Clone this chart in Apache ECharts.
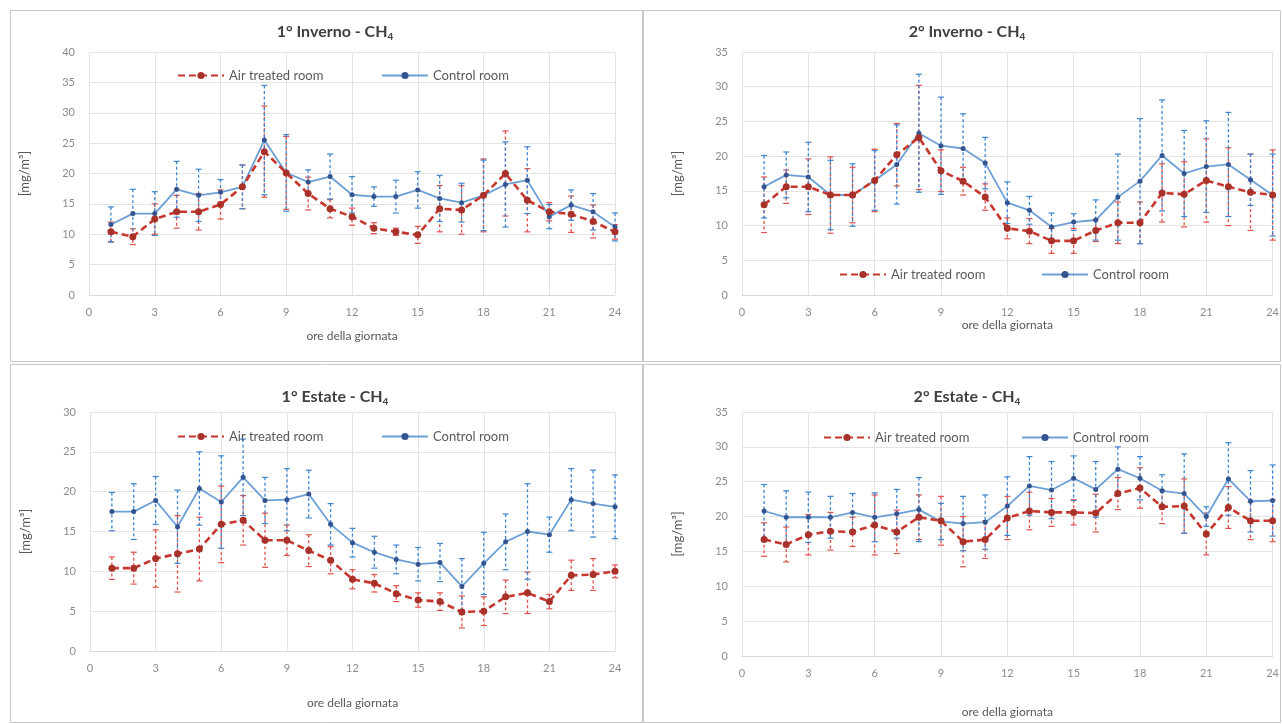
<!DOCTYPE html>
<html>
<head>
<meta charset="utf-8">
<script src="https://cdn.jsdelivr.net/npm/echarts@6/dist/echarts.min.js"></script>
<style>html,body{margin:0;padding:0;background:#fff}#c{width:1282px;height:724px}</style>
</head>
<body>
<div id="c"></div>
<script>
const hours = [1,2,3,4,5,6,7,8,9,10,11,12,13,14,15,16,17,18,19,20,21,22,23,24];
const xTicks = [0,3,6,9,12,15,18,21,24];
const titles = ['1° Inverno - CH', '2° Inverno - CH', '1° Estate - CH', '2° Estate - CH'];
const seriesNames = ['Air treated room', 'Control room'];
const yMax = [40, 35, 30, 35];

const p1Air     = [10.4, 9.6, 12.5, 13.7, 13.7, 14.9, 17.8, 23.6, 20.1, 16.7, 14.2, 12.9, 11.0, 10.4, 9.9, 14.2, 14.0, 16.4, 20.0, 15.6, 13.7, 13.3, 12.1, 10.4];
const p1AirErr  = [1.6, 1.3, 2.5, 2.7, 3.0, 2.4, 3.6, 7.5, 6.0, 2.7, 1.5, 1.4, 0.9, 0.6, 1.4, 3.8, 4.0, 6.0, 7.0, 5.2, 1.5, 3.0, 2.7, 1.2];
const p1Ctrl    = [11.6, 13.4, 13.4, 17.4, 16.4, 16.9, 17.8, 25.5, 20.1, 18.6, 19.5, 16.5, 16.2, 16.2, 17.3, 15.9, 15.2, 16.4, 18.2, 18.9, 12.9, 14.8, 13.7, 11.2];
const p1CtrlErr = [2.9, 4.0, 3.6, 4.6, 4.3, 2.1, 3.6, 9.0, 6.3, 2.0, 3.7, 3.0, 1.6, 2.7, 3.0, 3.8, 3.2, 5.8, 7.0, 5.5, 2.0, 2.5, 3.0, 2.3];

const p2Air     = [13.0, 15.6, 15.6, 14.4, 14.4, 16.5, 20.2, 22.7, 17.9, 16.4, 14.1, 9.6, 9.2, 7.8, 7.8, 9.3, 10.4, 10.4, 14.7, 14.5, 16.5, 15.6, 14.8, 14.4];
const p2AirErr  = [4.0, 2.4, 4.0, 5.5, 4.0, 4.5, 4.5, 7.5, 3.0, 2.0, 1.9, 1.5, 1.8, 1.8, 1.8, 1.6, 3.0, 3.0, 4.2, 4.7, 6.0, 5.6, 5.5, 6.5];
const p2Ctrl    = [15.6, 17.3, 17.0, 14.4, 14.4, 16.5, 18.8, 23.3, 21.5, 21.1, 19.0, 13.3, 12.2, 9.8, 10.5, 10.8, 14.1, 16.4, 20.1, 17.5, 18.5, 18.8, 16.6, 14.4];
const p2CtrlErr = [4.5, 3.3, 5.0, 5.0, 4.5, 4.3, 5.7, 8.5, 7.0, 5.0, 3.7, 3.0, 2.0, 2.0, 1.2, 2.9, 6.2, 9.0, 8.0, 6.2, 6.6, 7.5, 3.7, 5.9];

const p3Air     = [10.4, 10.4, 11.6, 12.2, 12.8, 15.9, 16.4, 13.9, 13.9, 12.6, 11.4, 9.0, 8.5, 7.2, 6.4, 6.2, 4.9, 5.0, 6.8, 7.3, 6.2, 9.5, 9.6, 10.0];
const p3AirErr  = [1.4, 2.0, 3.6, 4.8, 4.0, 4.8, 3.1, 3.4, 1.9, 2.0, 1.7, 1.2, 1.1, 1.0, 0.9, 1.1, 2.0, 1.8, 2.1, 2.6, 0.9, 1.9, 2.0, 0.8];
const p3Ctrl    = [17.5, 17.5, 18.9, 15.6, 20.4, 18.7, 21.8, 18.9, 19.0, 19.7, 15.9, 13.6, 12.4, 11.5, 10.9, 11.1, 8.1, 11.0, 13.7, 15.0, 14.6, 19.0, 18.5, 18.1];
const p3CtrlErr = [2.4, 3.5, 3.0, 4.6, 4.6, 5.8, 4.8, 2.9, 3.9, 3.0, 2.6, 1.8, 2.0, 1.8, 2.1, 2.4, 3.5, 3.9, 3.5, 6.0, 2.2, 3.9, 4.2, 4.0];

const p4Air     = [16.7, 16.0, 17.4, 17.9, 17.8, 18.8, 17.8, 19.9, 19.4, 16.4, 16.7, 19.8, 20.8, 20.6, 20.6, 20.5, 23.3, 24.1, 21.4, 21.5, 17.5, 21.3, 19.4, 19.4];
const p4AirErr  = [2.4, 2.5, 2.9, 2.7, 2.1, 4.3, 3.1, 3.2, 3.5, 3.6, 2.7, 3.1, 2.7, 2.0, 1.8, 2.7, 2.3, 2.9, 2.4, 3.9, 3.0, 3.0, 2.7, 3.0];
const p4Ctrl    = [20.8, 19.9, 19.9, 19.9, 20.6, 19.9, 20.4, 21.0, 19.3, 19.0, 19.2, 21.5, 24.4, 23.8, 25.5, 23.9, 26.8, 25.5, 23.7, 23.3, 20.0, 25.4, 22.2, 22.3];
const p4CtrlErr = [3.8, 3.8, 3.6, 3.0, 2.7, 3.5, 3.5, 4.6, 2.6, 3.9, 3.9, 4.2, 4.2, 4.1, 3.2, 4.0, 3.2, 3.1, 2.3, 5.7, 1.4, 5.2, 4.4, 5.1];

const panels = [
  {air: p1Air, airErr: p1AirErr, ctrl: p1Ctrl, ctrlErr: p1CtrlErr},
  {air: p2Air, airErr: p2AirErr, ctrl: p2Ctrl, ctrlErr: p2CtrlErr},
  {air: p3Air, airErr: p3AirErr, ctrl: p3Ctrl, ctrlErr: p3CtrlErr},
  {air: p4Air, airErr: p4AirErr, ctrl: p4Ctrl, ctrlErr: p4CtrlErr}
];

// layout (pixels)
const L = [
  {grid:{left:89, top:52, width:526, height:243}, title:{x:330, y:17}, legend:[{left:172, top:64},{left:376, top:64}], xGap:35, yGap:58},
  {grid:{left:742, top:52, width:531, height:243}, title:{x:962, y:17}, legend:[{left:834, top:263},{left:1036, top:263}], xGap:23, yGap:58},
  {grid:{left:90, top:412, width:525, height:239}, title:{x:330, y:382}, legend:[{left:172, top:425},{left:376, top:425}], xGap:46, yGap:58},
  {grid:{left:742, top:412, width:531, height:244}, title:{x:962, y:382}, legend:[{left:818, top:426},{left:1016, top:426}], xGap:50, yGap:58}
];

const AIR_LINE = '#c8372d', AIR_MARK = '#a8322a', AIR_ERR = '#e0504a';
const CTRL_LINE = '#6b9fd6', CTRL_MARK = '#34548f', CTRL_ERR = '#3f86d0';
const FONT = 'Lato, "Open Sans", sans-serif';

function errRender(color) {
  return function (params, api) {
    const x = api.value(0), lo = api.value(1), hi = api.value(2);
    const a = api.coord([x, hi]), b = api.coord([x, lo]);
    const cap = 3;
    const st = {stroke: color, lineWidth: 1.3, lineDash: [3, 2.5]};
    const cs = {stroke: color, lineWidth: 1.2};
    return {type: 'group', children: [
      {type: 'line', shape: {x1: a[0], y1: a[1], x2: b[0], y2: b[1]}, style: st},
      {type: 'line', shape: {x1: a[0]-cap, y1: a[1], x2: a[0]+cap, y2: a[1]}, style: cs},
      {type: 'line', shape: {x1: b[0]-cap, y1: b[1], x2: b[0]+cap, y2: b[1]}, style: cs}
    ]};
  };
}

const grid = [], xAxis = [], yAxis = [], series = [], title = [], legend = [];
panels.forEach((p, i) => {
  const lay = L[i];
  grid.push(Object.assign({containLabel: false}, lay.grid));
  xAxis.push({
    type: 'value', gridIndex: i, min: xTicks[0], max: xTicks[xTicks.length-1], interval: 3,
    name: 'ore della giornata', nameLocation: 'middle', nameGap: lay.xGap,
    nameTextStyle: {color: '#595959', fontSize: 12, fontFamily: FONT},
    axisLine: {lineStyle: {color: '#d9d9d9'}}, axisTick: {show: false},
    axisLabel: {color: '#8c8c8c', fontSize: 11, margin: 12, fontFamily: FONT},
    splitLine: {show: true, lineStyle: {color: '#e4e4e4'}}
  });
  yAxis.push({
    type: 'value', gridIndex: i, min: 0, max: yMax[i], interval: 5,
    name: '[mg/m³]', nameLocation: 'middle', nameGap: lay.yGap, nameRotate: 90,
    nameTextStyle: {color: '#595959', fontSize: 13, fontFamily: FONT},
    axisLine: {show: false}, axisTick: {show: false},
    axisLabel: {color: '#8c8c8c', fontSize: 11, margin: 14, fontFamily: FONT},
    splitLine: {show: true, lineStyle: {color: '#e4e4e4'}}
  });
  title.push({
    text: '{a|' + titles[i] + '}{s|4}', left: lay.title.x, top: lay.title.y, textAlign: 'center',
    textStyle: {rich: {
      a: {fontSize: 16, fontWeight: 'bold', color: '#404040', fontFamily: FONT, lineHeight: 20},
      s: {fontSize: 10, fontWeight: 'bold', color: '#404040', fontFamily: FONT, verticalAlign: 'bottom', lineHeight: 20, padding: [8, 0, 0, 0]}
    }}
  });
  seriesNames.forEach((nm, k) => {
    legend.push({
      data: [{name: nm}], left: lay.legend[k].left, top: lay.legend[k].top,
      itemWidth: 46, itemHeight: 9, selectedMode: false,
      textStyle: {color: '#595959', fontSize: 13, fontFamily: FONT}
    });
  });
  series.push({
    type: 'custom', name: 'airErr' + i, xAxisIndex: i, yAxisIndex: i, z: 2, silent: true,
    renderItem: errRender(AIR_ERR), encode: {x: 0, y: [1, 2]},
    data: hours.map((h, j) => [h, p.air[j] - p.airErr[j], p.air[j] + p.airErr[j]])
  });
  series.push({
    type: 'custom', name: 'ctrlErr' + i, xAxisIndex: i, yAxisIndex: i, z: 3, silent: true,
    renderItem: errRender(CTRL_ERR), encode: {x: 0, y: [1, 2]},
    data: hours.map((h, j) => [h, p.ctrl[j] - p.ctrlErr[j], p.ctrl[j] + p.ctrlErr[j]])
  });
  series.push({
    type: 'line', name: seriesNames[1], xAxisIndex: i, yAxisIndex: i, z: 4,
    data: hours.map((h, j) => [h, p.ctrl[j]]),
    symbol: 'circle', symbolSize: 5, showAllSymbol: true,
    lineStyle: {color: CTRL_LINE, width: 1.8},
    itemStyle: {color: CTRL_MARK, borderWidth: 0}
  });
  series.push({
    type: 'line', name: seriesNames[0], xAxisIndex: i, yAxisIndex: i, z: 5,
    data: hours.map((h, j) => [h, p.air[j]]),
    symbol: 'circle', symbolSize: 7, showAllSymbol: true,
    lineStyle: {color: AIR_LINE, width: 2.6, type: [7, 4]},
    itemStyle: {color: AIR_MARK, borderWidth: 0}
  });
});

const border = {stroke: '#c8c8c8', lineWidth: 1, fill: 'none'};
const chart = echarts.init(document.getElementById('c'), null, {renderer: 'canvas'});
chart.setOption({
  animation: false,
  backgroundColor: '#ffffff',
  title, legend, grid, xAxis, yAxis, series,
  graphic: [
    {type: 'rect', shape: {x: 10.5, y: 10.5, width: 632, height: 351}, style: border, z: -1},
    {type: 'rect', shape: {x: 643.5, y: 10.5, width: 637, height: 351}, style: border, z: -1},
    {type: 'rect', shape: {x: 10.5, y: 364.5, width: 632, height: 358}, style: border, z: -1},
    {type: 'rect', shape: {x: 643.5, y: 364.5, width: 637, height: 358}, style: border, z: -1}
  ]
});
</script>
</body>
</html>
